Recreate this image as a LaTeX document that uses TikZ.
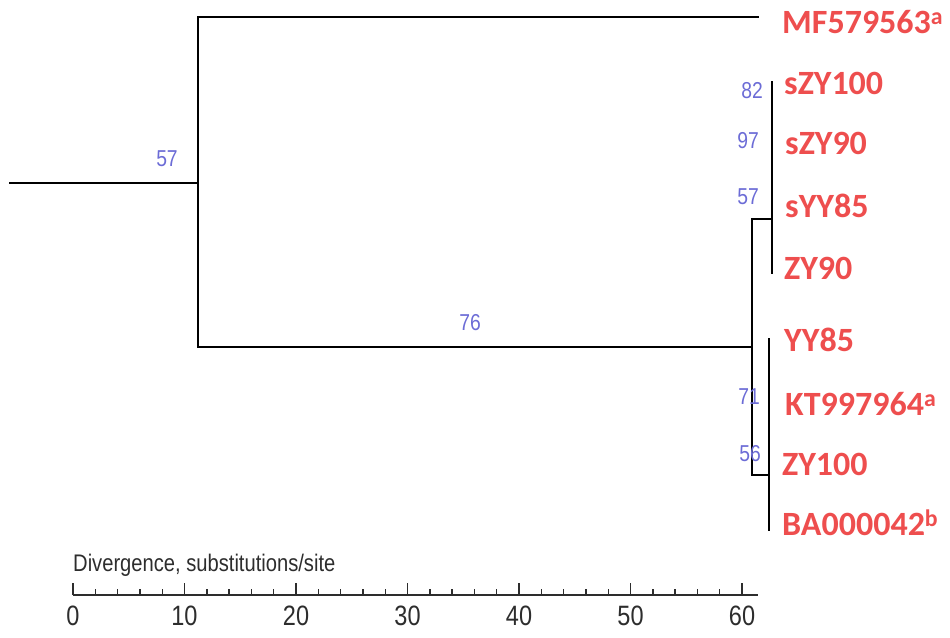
\documentclass[tikz,border=0pt]{standalone}
\usepackage{fontspec}
\setmainfont{Liberation Sans}
\newfontfamily\tipfont{Carlito}
\definecolor{tipred}{RGB}{238,78,78}
\definecolor{bootblue}{RGB}{108,108,214}
\definecolor{axisgrey}{RGB}{45,45,45}
\newcommand{\narrow}[1]{\scalebox{0.84}[1]{#1}}
\begin{document}
\begin{tikzpicture}[x=1pt,y=-1pt,
  branch/.style={line width=2pt,black,line cap=rect},
  tip/.style={anchor=west,inner sep=0pt,text=tipred,font=\tipfont\bfseries\fontsize{34}{34}\selectfont},
  boot/.style={inner sep=0pt,text=bootblue,font=\fontsize{23}{23}\selectfont},
  ticknum/.style={inner sep=0pt,text=axisgrey,font=\fontsize{28}{28}\selectfont},
  axlab/.style={anchor=west,inner sep=0pt,text=axisgrey,font=\fontsize{24}{24}\selectfont}]
\useasboundingbox (0,0) rectangle (950,637);
% tree coordinates
\coordinate (root) at (10,183);
\coordinate (n1) at (198,183);
\coordinate (n2) at (752,347);
\coordinate (n3) at (772,219);
\coordinate (n4) at (769,475);
% tips
\node[tip] (t1) at (782,22) {MF579563\textsuperscript{a}};
\node[tip] (t2) at (784,83) {sZY100};
\node[tip] (t3) at (785,143) {sZY90};
\node[tip] (t4) at (785,206) {sYY85};
\node[tip] (t5) at (784,268) {ZY90};
\node[tip] (t6) at (784,340) {YY85};
\node[tip] (t7) at (785,404) {KT997964\textsuperscript{a}};
\node[tip] (t8) at (782,464) {ZY100};
\node[tip] (t9) at (782,523) {BA000042\textsuperscript{b}};
% branches
\draw[branch] (root) -- (n1);
\draw[branch] (n1 |- 0,17) -- (n1 |- 0,347);
\draw[branch] (n1 |- 0,17) -- (758,17);
\draw[branch] (n1 |- n2) -- (n2);
\draw[branch] (n2 |- n3) -- (n2 |- n4);
\draw[branch] (n2 |- n3) -- (n3);
\draw[branch] (n3 |- 0,82) -- (n3 |- 0,273);
\draw[branch] (n2 |- n4) -- (n4);
\draw[branch] (n4 |- 0,339) -- (n4 |- 0,530);
% bootstrap values
\node[boot] (b1) at (167,159) {\narrow{57}};
\node[boot] (b2) at (470,323) {\narrow{76}};
\node[boot] (b3) at (752,91) {\narrow{82}};
\node[boot] (b4) at (748,141) {\narrow{97}};
\node[boot] (b5) at (748,197) {\narrow{57}};
\node[boot] (b6) at (749,397) {\narrow{71}};
\node[boot] (b7) at (750,454) {\narrow{56}};
% axis
\node[axlab] (axl) at (73,565) {\narrow{Divergence, substitutions/site}};
\draw[line width=1.6pt,axisgrey] (73,595) -- (758,595);
\foreach \i in {0,...,30}{
  \pgfmathsetmacro{\xx}{73+\i*2*11.15}
  \pgfmathtruncatemacro{\m}{mod(\i,5)}
  \ifnum\m=0
    \draw[line width=1.6pt,axisgrey] (\xx,595) -- (\xx,583);
  \else
    \draw[line width=1.4pt,axisgrey] (\xx,595) -- (\xx,589);
  \fi
}
\foreach \v in {0,10,...,60}{
  \node[ticknum] (tn\v) at ({73+\v*11.15},616) {\narrow{\v}};
}
\end{tikzpicture}
\end{document}
